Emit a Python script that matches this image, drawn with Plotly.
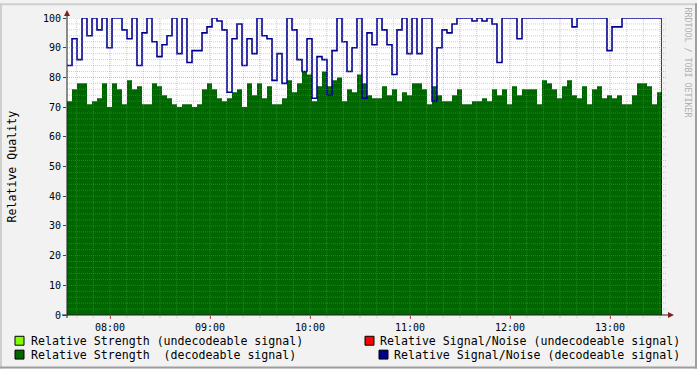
import plotly.graph_objects as go
from datetime import datetime, timedelta

# ---------------- data ----------------
start_time = datetime(2024, 1, 1, 7, 34, 12)
step_minutes = 3

# Relative Strength (decodeable signal)
strength = [72, 76, 78, 78, 71, 72, 73, 78, 70, 78,
            76, 71, 79, 76, 77, 71, 71, 78, 77, 74,
            73, 71, 70, 71, 71, 70, 71, 76, 78, 76,
            73, 72, 73, 75, 76, 70, 78, 74, 78, 73,
            77, 71, 71, 73, 79, 75, 78, 82, 81, 72,
            77, 82, 77, 79, 80, 72, 76, 75, 81, 78,
            74, 73, 73, 77, 74, 76, 72, 75, 74, 78,
            78, 76, 71, 77, 74, 72, 72, 74, 76, 71,
            71, 72, 72, 73, 72, 76, 74, 76, 71, 77,
            74, 76, 76, 76, 71, 79, 78, 76, 73, 77,
            79, 74, 73, 77, 71, 76, 77, 73, 74, 73,
            74, 71, 71, 74, 78, 78, 77, 71, 75]

# Relative Signal/Noise (decodeable signal)
snr = [84, 93, 86, 100, 94, 100, 96, 100, 90, 100,
       100, 96, 93, 100, 84, 95, 100, 92, 87, 91,
       94, 100, 88, 100, 85, 89, 89, 95, 97, 100,
       99, 96, 75, 93, 98, 84, 93, 88, 100, 94,
       93, 79, 88, 78, 100, 96, 86, 82, 93, 73,
       87, 86, 74, 89, 100, 92, 82, 90, 100, 73,
       95, 91, 100, 96, 91, 81, 96, 100, 88, 100,
       88, 100, 100, 72, 90, 96, 95, 98, 100, 100,
       100, 99, 100, 99, 100, 98, 85, 100, 100, 100,
       93, 100, 100, 100, 100, 100, 100, 100, 100, 100,
       100, 97, 100, 100, 100, 100, 100, 100, 89, 97,
       97, 100, 100, 100, 100, 100, 100, 100, 100]

hour_labels = ["08:00", "09:00", "10:00", "11:00", "12:00", "13:00"]
y_ticks = [0, 10, 20, 30, 40, 50, 60, 70, 80, 90, 100]

legend_left = ["Relative Strength (undecodeable signal)",
               "Relative Strength  (decodeable signal)"]
legend_right = ["Relative Signal/Noise (undecodeable signal)",
                "Relative Signal/Noise (decodeable signal)"]
legend_left_colors = ["#80FF00", "#006600"]
legend_right_colors = ["#FF0000", "#000090"]

# ---------------- geometry helpers ----------------
W, H = 697, 369
ML, MR, MT, MB = 67, 35, 15, 54
PW, PH = W - ML - MR, H - MT - MB


def px(x):
    return (x - ML) / PW


def py(y):
    return (H - MB - y) / PH


times = [start_time + timedelta(minutes=step_minutes * i) for i in range(len(strength))]
end_time = start_time + timedelta(minutes=step_minutes * len(strength))

FONT = "DejaVu Sans Mono"
GREEN = "#006600"
BLUE = "#000090"

fig = go.Figure()
fig.add_trace(go.Scatter(
    x=times + [end_time], y=strength + [strength[-1]],
    mode="lines", line=dict(shape="hv", width=0, color=GREEN),
    fill="tozeroy", fillcolor=GREEN, hoverinfo="skip", showlegend=False))
fig.add_trace(go.Scatter(
    x=times + [end_time, end_time], y=snr + [snr[-1], 0],
    mode="lines", line=dict(shape="hv", width=1.6, color=BLUE),
    hoverinfo="skip", showlegend=False))

shapes = []
GRID = "rgba(140,140,140,0.42)"
MGRID = "rgba(222,79,79,0.5)"
# vertical grid
t = datetime(2024, 1, 1, 7, 40)
while t <= end_time:
    major = (t.minute % 30 == 0)
    shapes.append(dict(type="line", xref="x", yref="paper", x0=t, x1=t,
                       y0=-3 / PH, y1=1, layer="above",
                       line=dict(color=MGRID if major else GRID, width=1, dash="1px,1px")))
    t += timedelta(minutes=10)
# horizontal grid
for v in range(2, 101, 2):
    major = (v % 10 == 0)
    shapes.append(dict(type="line", xref="paper", yref="y", x0=0, x1=1 + 4 / PW,
                       y0=v, y1=v, layer="above",
                       line=dict(color=MGRID if major else GRID, width=1, dash="1px,1px")))

AXIS = "#212121"
ARROW = "#802121"
# axis lines
shapes.append(dict(type="line", xref="paper", yref="paper", x0=px(62), x1=px(669),
                   y0=0, y1=0, layer="above", line=dict(color=AXIS, width=1)))
shapes.append(dict(type="line", xref="paper", yref="paper", x0=0, x1=0,
                   y0=py(318), y1=py(12), layer="above", line=dict(color=AXIS, width=1)))
# arrows
shapes.append(dict(type="path", xref="paper", yref="paper", layer="above",
                   path=f"M {px(64)} {py(13)} L {px(67)} {py(7)} L {px(70)} {py(13)} Z",
                   fillcolor=ARROW, line=dict(color=ARROW, width=0)))
shapes.append(dict(type="path", xref="paper", yref="paper", layer="above",
                   path=f"M {px(668)} {py(312)} L {px(674)} {py(315)} L {px(668)} {py(318)} Z",
                   fillcolor=ARROW, line=dict(color=ARROW, width=0)))
# frame
shapes.append(dict(type="rect", xref="paper", yref="paper", x0=px(0), x1=px(W), y0=py(0), y1=py(2),
                   fillcolor="#CFCFCF", line=dict(width=0), layer="above"))
shapes.append(dict(type="rect", xref="paper", yref="paper", x0=px(0), x1=px(2), y0=py(0), y1=py(H),
                   fillcolor="#CFCFCF", line=dict(width=0), layer="above"))
shapes.append(dict(type="rect", xref="paper", yref="paper", x0=px(0), x1=px(W), y0=py(H - 2), y1=py(H),
                   fillcolor="#9E9E9E", line=dict(width=0), layer="above"))
shapes.append(dict(type="rect", xref="paper", yref="paper", x0=px(W - 2), x1=px(W), y0=py(0), y1=py(H),
                   fillcolor="#9E9E9E", line=dict(width=0), layer="above"))

annotations = []
# legend
rows_y = [341, 355]
for i, (txt, col) in enumerate(zip(legend_left, legend_left_colors)):
    yc = rows_y[i]
    shapes.append(dict(type="rect", xref="paper", yref="paper", x0=px(15), x1=px(24),
                       y0=py(yc - 4.5), y1=py(yc + 4.5), fillcolor=col,
                       line=dict(color="black", width=1), layer="above"))
    annotations.append(dict(text=txt, x=px(30), y=py(yc), xref="paper", yref="paper",
                            xanchor="left", yanchor="middle", showarrow=False,
                            borderpad=0, font=dict(family=FONT, size=11.6, color="black")))
right_box_x = [365, 379]
for i, (txt, col) in enumerate(zip(legend_right, legend_right_colors)):
    yc = rows_y[i]
    bx = right_box_x[i]
    shapes.append(dict(type="rect", xref="paper", yref="paper", x0=px(bx), x1=px(bx + 9),
                       y0=py(yc - 4.5), y1=py(yc + 4.5), fillcolor=col,
                       line=dict(color="black", width=1), layer="above"))
    annotations.append(dict(text=txt, x=px(681), y=py(yc), xref="paper", yref="paper",
                            xanchor="right", yanchor="middle", showarrow=False,
                            borderpad=0, font=dict(family=FONT, size=11.6, color="black")))
# y title
annotations.append(dict(text="Relative Quality", x=px(11), y=py(165), xref="paper", yref="paper",
                        xanchor="center", yanchor="middle", textangle=-90, showarrow=False,
                        font=dict(family=FONT, size=11.6, color="black")))
# watermark
annotations.append(dict(text="RRDTOOL / TOBI OETIKER", x=px(688), y=py(60), xref="paper", yref="paper",
                        xanchor="center", yanchor="middle", textangle=90, showarrow=False,
                        font=dict(family=FONT, size=8.3, color="#B0B0B0")))

hour_vals = [datetime(2024, 1, 1, 8 + i, 0) for i in range(len(hour_labels))]

fig.update_layout(
    width=W, height=H,
    margin=dict(l=ML, r=MR, t=MT, b=MB, pad=0),
    paper_bgcolor="#F2F2F2", plot_bgcolor="white",
    showlegend=False,
    shapes=shapes, annotations=annotations,
    xaxis=dict(type="date", range=[start_time, end_time], showgrid=False, zeroline=False,
               showline=False, tickvals=hour_vals, ticktext=hour_labels,
               ticks="outside", ticklen=3, tickcolor="#B05050",
               tickfont=dict(family=FONT, size=10, color="black")),
    yaxis=dict(range=[0, 100], showgrid=False, zeroline=False, showline=False,
               tickvals=y_ticks, ticktext=[str(v) for v in y_ticks],
               ticks="outside", ticklen=3, tickcolor="#444444",
               tickfont=dict(family=FONT, size=10, color="black")),
)

fig.write_html("out.html")
